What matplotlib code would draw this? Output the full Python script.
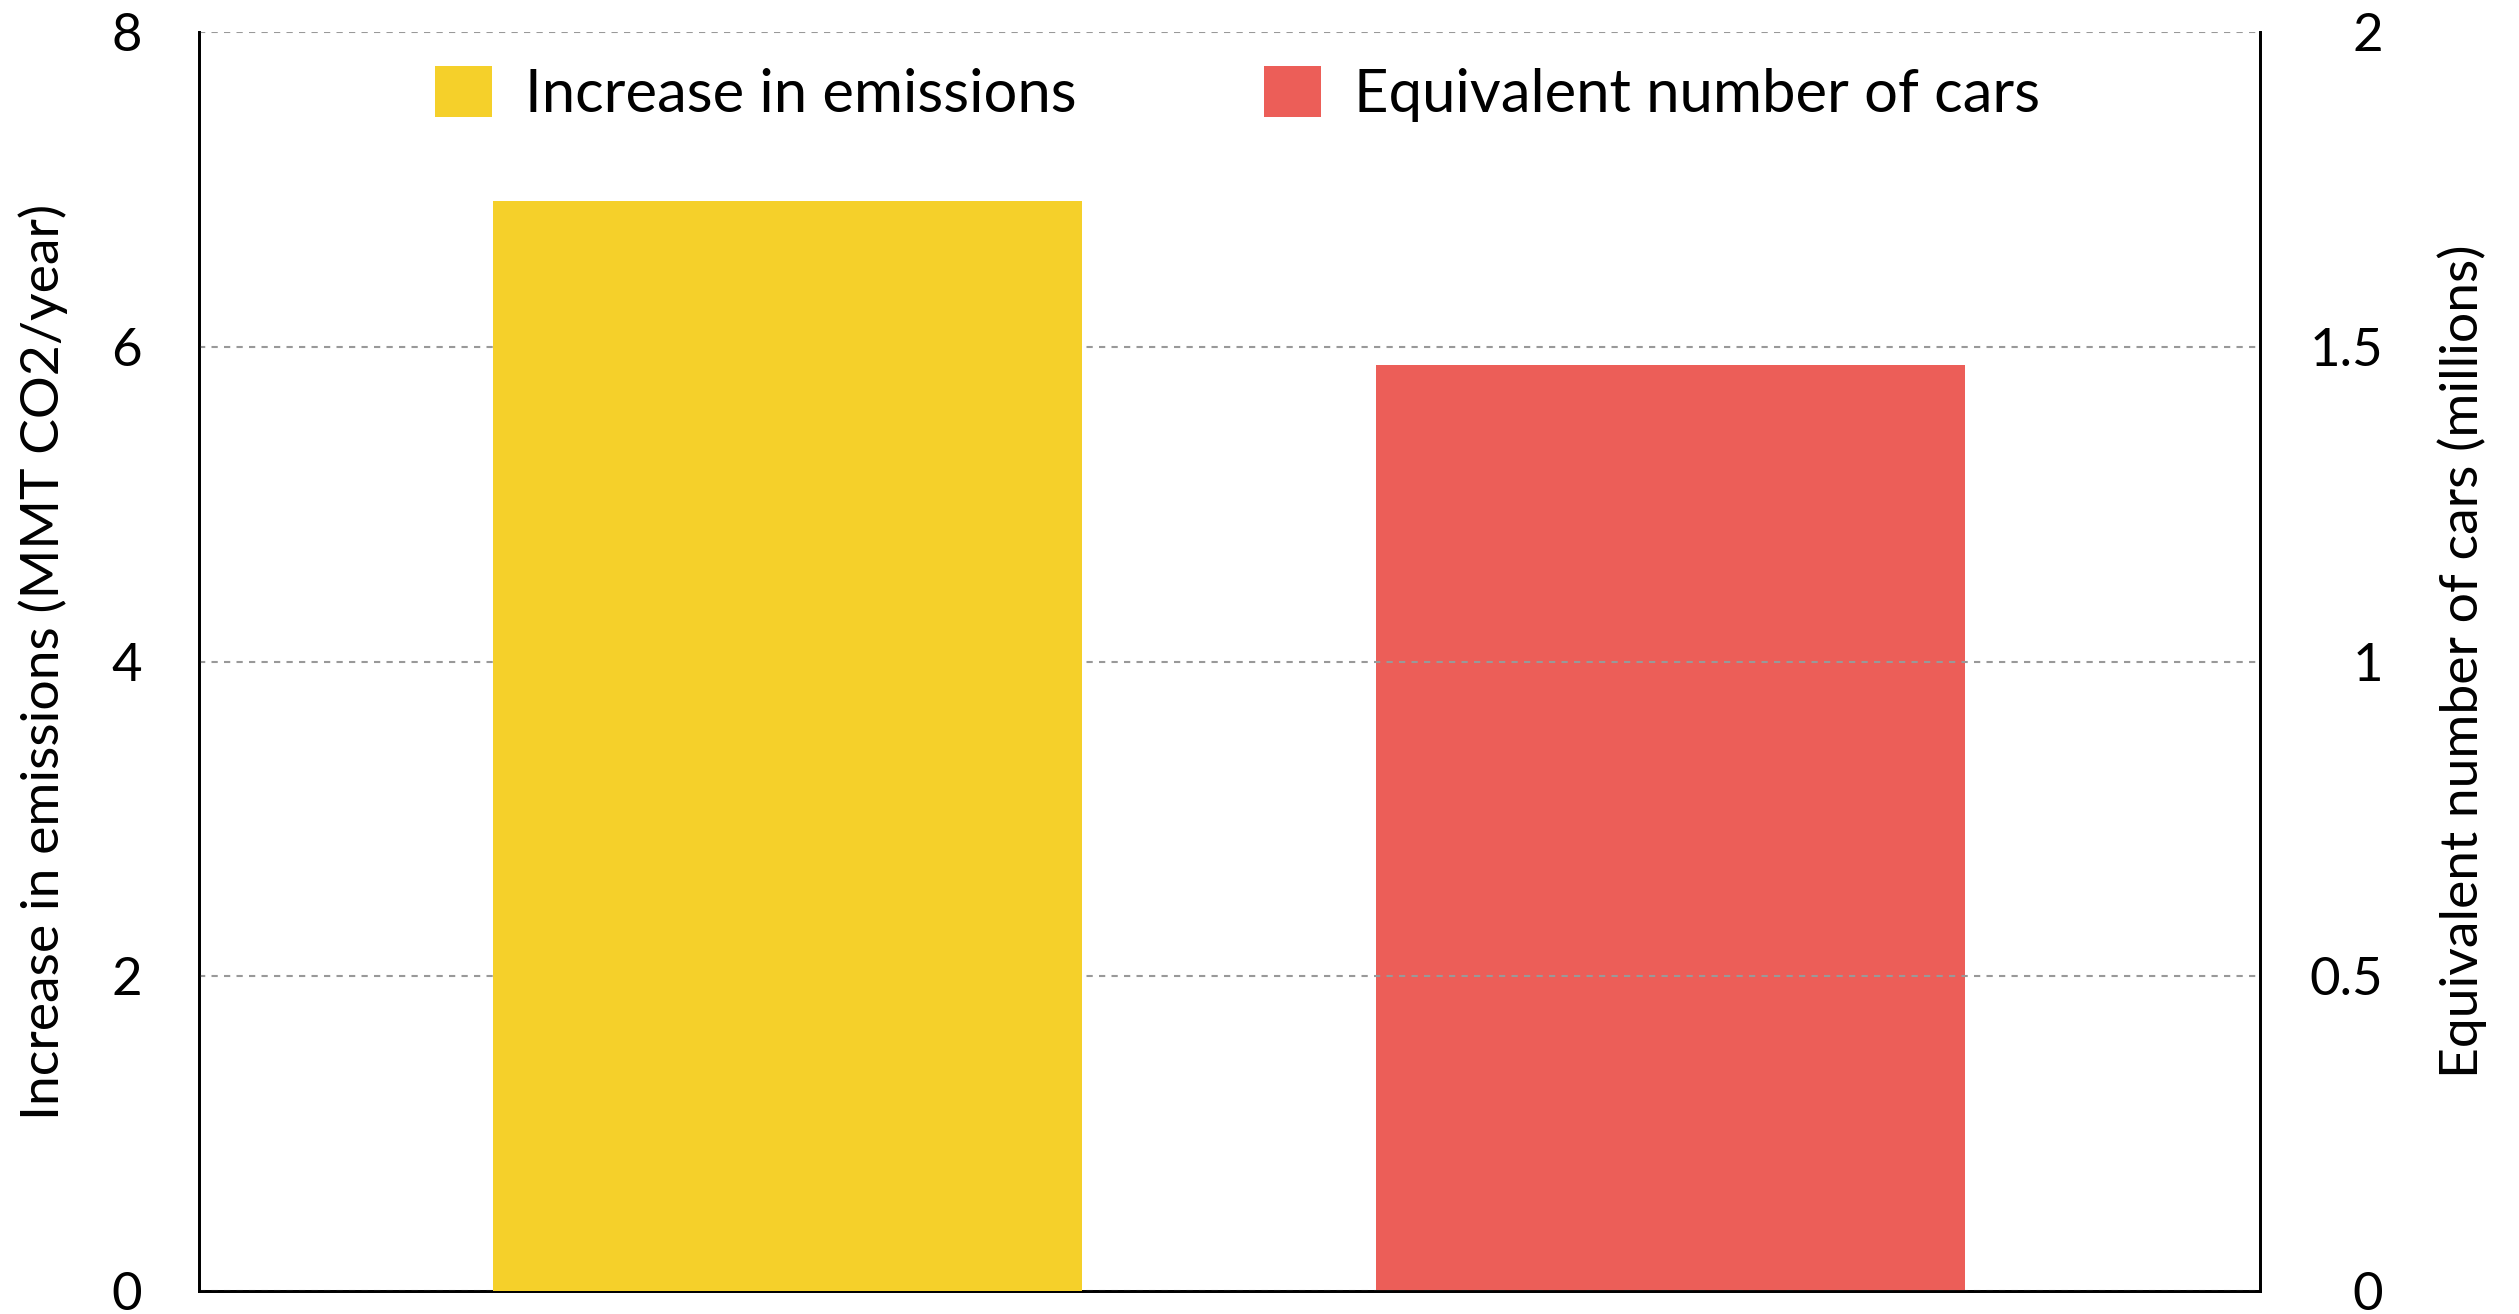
import matplotlib
matplotlib.use("Agg")
import matplotlib.pyplot as plt
from matplotlib.patches import Patch

plt.rcParams['font.family'] = ['Lato', 'DejaVu Sans']

categories = ["Increase in emissions", "Equivalent number of cars"]
emissions = [6.93]          # MMT CO2/year (left axis)
cars = [1.472]              # millions (right axis)
left_ticks = [0, 2, 4, 6, 8]
right_ticks = [0, 0.5, 1, 1.5, 2]
right_labels = ["0", "0.5", "1", "1.5", "2"]
colors = ["#F5D02A", "#EC5E58"]

fig = plt.figure(figsize=(25.19, 13.14), dpi=100)
ax = fig.add_axes([0.079, 0.0175, 0.818, 0.958])
ax2 = ax.twinx()

ax.bar([0], emissions, width=0.667, color=colors[0], zorder=3)
ax2.bar([1], cars, width=0.667, color=colors[1], zorder=3)

ax.set_xlim(-0.667, 1.667)
ax.set_ylim(0, 8)
ax2.set_ylim(0, 2)
ax.set_xticks([])
ax.set_yticks(left_ticks)
ax.set_yticklabels([str(t) for t in left_ticks])
ax2.set_yticks(right_ticks)
ax2.set_yticklabels(right_labels, ha='right')

ax.yaxis.grid(True, linestyle=(0, (3, 3)), color="#999999", linewidth=1.5, zorder=0)
ax.set_axisbelow(True)

for a in (ax, ax2):
    a.spines['top'].set_visible(False)
    for s in ('left', 'right', 'bottom'):
        a.spines[s].set_linewidth(2)
        a.spines[s].set_color('black')
ax.tick_params(axis='y', length=0, labelsize=38, pad=41)
ax2.tick_params(axis='y', length=0, labelsize=38, pad=89)

ax.set_ylabel("Increase in emissions (MMT CO2/year)", fontsize=38.5, va='center')
ax2.set_ylabel("Equivalent number of cars (millions)", fontsize=38.5, va='center', rotation=90)
ax.yaxis.set_label_coords(-0.0757, 0.5)
ax2.yaxis.set_label_coords(1.0985, 0.5)

handles = [Patch(facecolor=colors[0]), Patch(facecolor=colors[1])]
leg = ax.legend(handles, categories, loc='upper center', bbox_to_anchor=(0.504, 0.997),
                ncol=2, frameon=False, fontsize=43, handlelength=0.95, handleheight=0.95,
                handletextpad=0.55, columnspacing=3.15, borderpad=0)
ax2.set_zorder(ax.get_zorder() - 1)
ax.patch.set_visible(False)

fig.savefig("out.png", dpi=100)
